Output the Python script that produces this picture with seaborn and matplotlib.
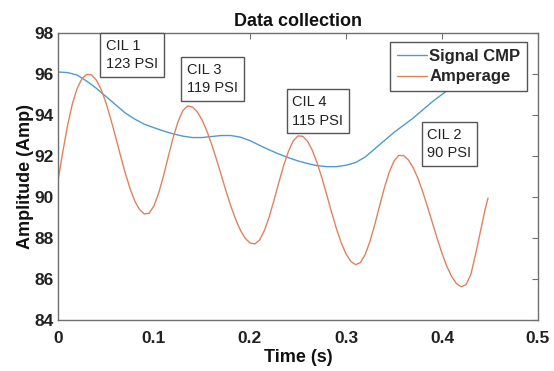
import numpy as np
import pandas as pd
import seaborn as sns
import matplotlib
matplotlib.use("Agg")
import matplotlib.pyplot as plt
from matplotlib.lines import Line2D

# ---- data ----
t_signal = [0.00, 0.01, 0.02, 0.03, 0.04, 0.05, 0.06, 0.07, 0.08, 0.09,
            0.10, 0.11, 0.12, 0.13, 0.14, 0.15, 0.16, 0.17, 0.18, 0.19,
            0.20, 0.21, 0.22, 0.23, 0.24, 0.25, 0.26, 0.27, 0.28, 0.29,
            0.30, 0.31, 0.32, 0.33, 0.34, 0.35, 0.36, 0.37, 0.38, 0.39,
            0.40, 0.41, 0.42, 0.43, 0.44, 0.45]
signal_cmp = [96.10, 96.07, 95.95, 95.65, 95.30, 94.90, 94.50, 94.10, 93.80, 93.55,
              93.38, 93.22, 93.08, 92.97, 92.90, 92.90, 92.95, 93.00, 93.00, 92.92,
              92.75, 92.52, 92.30, 92.10, 91.92, 91.76, 91.63, 91.53, 91.48, 91.48,
              91.55, 91.68, 91.95, 92.35, 92.75, 93.15, 93.50, 93.85, 94.25, 94.65,
              95.00, 95.35, 95.70, 96.05, 96.40, 96.75]

t_amp = [0.000, 0.005, 0.010, 0.015, 0.020, 0.025, 0.030, 0.035, 0.040, 0.045,
         0.050, 0.055, 0.060, 0.065, 0.070, 0.075, 0.080, 0.085, 0.090, 0.095,
         0.100, 0.105, 0.110, 0.115, 0.120, 0.125, 0.130, 0.135, 0.140, 0.145,
         0.150, 0.155, 0.160, 0.165, 0.170, 0.175, 0.180, 0.185, 0.190, 0.195,
         0.200, 0.205, 0.210, 0.215, 0.220, 0.225, 0.230, 0.235, 0.240, 0.245,
         0.250, 0.255, 0.260, 0.265, 0.270, 0.275, 0.280, 0.285, 0.290, 0.295,
         0.300, 0.305, 0.310, 0.315, 0.320, 0.325, 0.330, 0.335, 0.340, 0.345,
         0.350, 0.355, 0.360, 0.365, 0.370, 0.375, 0.380, 0.385, 0.390, 0.395,
         0.400, 0.405, 0.410, 0.415, 0.420, 0.425, 0.430, 0.435, 0.440, 0.445,
         0.448]
amperage = [90.80, 92.20, 93.50, 94.55, 95.30, 95.78, 95.98, 95.96, 95.70, 95.24,
            94.59, 93.80, 92.93, 92.04, 91.18, 90.42, 89.80, 89.38, 89.17, 89.21,
            89.57, 90.21, 91.05, 91.99, 92.90, 93.67, 94.21, 94.44, 94.39, 94.16,
            93.77, 93.23, 92.58, 91.85, 91.08, 90.30, 89.57, 88.92, 88.38, 87.99,
            87.76, 87.71, 87.90, 88.36, 89.03, 89.83, 90.70, 91.52, 92.22, 92.73,
            92.98, 92.96, 92.72, 92.27, 91.66, 90.92, 90.10, 89.26, 88.47, 87.77,
            87.23, 86.86, 86.70, 86.80, 87.19, 87.83, 88.65, 89.56, 90.44, 91.20,
            91.75, 92.03, 92.02, 91.81, 91.43, 90.91, 90.25, 89.52, 88.75, 87.98,
            87.26, 86.63, 86.13, 85.78, 85.62, 85.72, 86.20, 87.20, 88.30, 89.40,
            89.95]

series_names = ["Signal CMP", "Amperage"]
series_colors = ["#4f9bd0", "#e0825c"]

annotation_texts = ["CIL 1\n123 PSI", "CIL 3\n119 PSI", "CIL 4\n115 PSI", "CIL 2\n90 PSI"]
annotation_x = [0.0497, 0.1347, 0.2443, 0.3848]
annotation_y = [97.72, 96.56, 94.97, 93.39]

xticks = [0, 0.1, 0.2, 0.3, 0.4, 0.5]
xticklabels = ["0", "0.1", "0.2", "0.3", "0.4", "0.5"]
yticks = [84, 86, 88, 90, 92, 94, 96, 98]

# ---- build table ----
df = pd.concat([
    pd.DataFrame({"t": t_signal, "v": signal_cmp, "s": series_names[0]}),
    pd.DataFrame({"t": t_amp, "v": amperage, "s": series_names[1]}),
], ignore_index=True)

sns.set_theme(style="white")
plt.rcParams["font.family"] = ["Liberation Sans", "DejaVu Sans"]

fig = plt.figure(figsize=(5.54, 3.71), dpi=100)
ax = fig.add_axes([0.1047, 0.1375, 0.8663, 0.7735])

sns.lineplot(data=df, x="t", y="v", hue="s", palette=dict(zip(series_names, series_colors)),
             ax=ax, linewidth=1.0, sort=False, estimator=None, legend=False)

ax.set_xlim(0, 0.5)
ax.set_ylim(84, 98)
ax.set_xticks(xticks)
ax.set_xticklabels(xticklabels)
ax.set_yticks(yticks)

axcol = "#707070"
for sp in ax.spines.values():
    sp.set_visible(True)
    sp.set_color(axcol)
    sp.set_linewidth(1.0)
ax.tick_params(direction="in", length=4, width=0.8, color=axcol,
               top=True, right=True, labelsize=12.5)
ax.tick_params(axis="x", pad=8)
ax.tick_params(axis="y", pad=3)
for lab in ax.get_xticklabels() + ax.get_yticklabels():
    lab.set_fontweight("bold")
    lab.set_color("#222222")

ax.set_title("Data collection", fontsize=13, fontweight="bold", pad=5, color="#111111")
ax.set_xlabel("Time (s)", fontsize=13, fontweight="bold", labelpad=2, color="#111111")
ax.set_ylabel("Amplitude (Amp)", fontsize=13, fontweight="bold", labelpad=0, color="#111111")

for txt, x, y in zip(annotation_texts, annotation_x, annotation_y):
    ax.text(x, y, txt, fontsize=10.5, va="top", ha="left", linespacing=1.4, color="#222222",
            bbox=dict(boxstyle="square,pad=0.4", fc="white", ec="#555555", lw=1.0))

handles = [Line2D([], [], color=c, lw=1.0) for c in series_colors]
leg = ax.legend(handles, series_names, loc="upper right", bbox_to_anchor=(0.977, 0.969),
                frameon=True, fancybox=False, edgecolor="#555555", framealpha=1,
                prop=dict(size=12, weight="bold"), handlelength=1.8, handletextpad=0.15,
                borderpad=0.4, labelspacing=0.35, borderaxespad=0)
leg.get_frame().set_linewidth(1.0)

fig.savefig("out.png", dpi=100)
